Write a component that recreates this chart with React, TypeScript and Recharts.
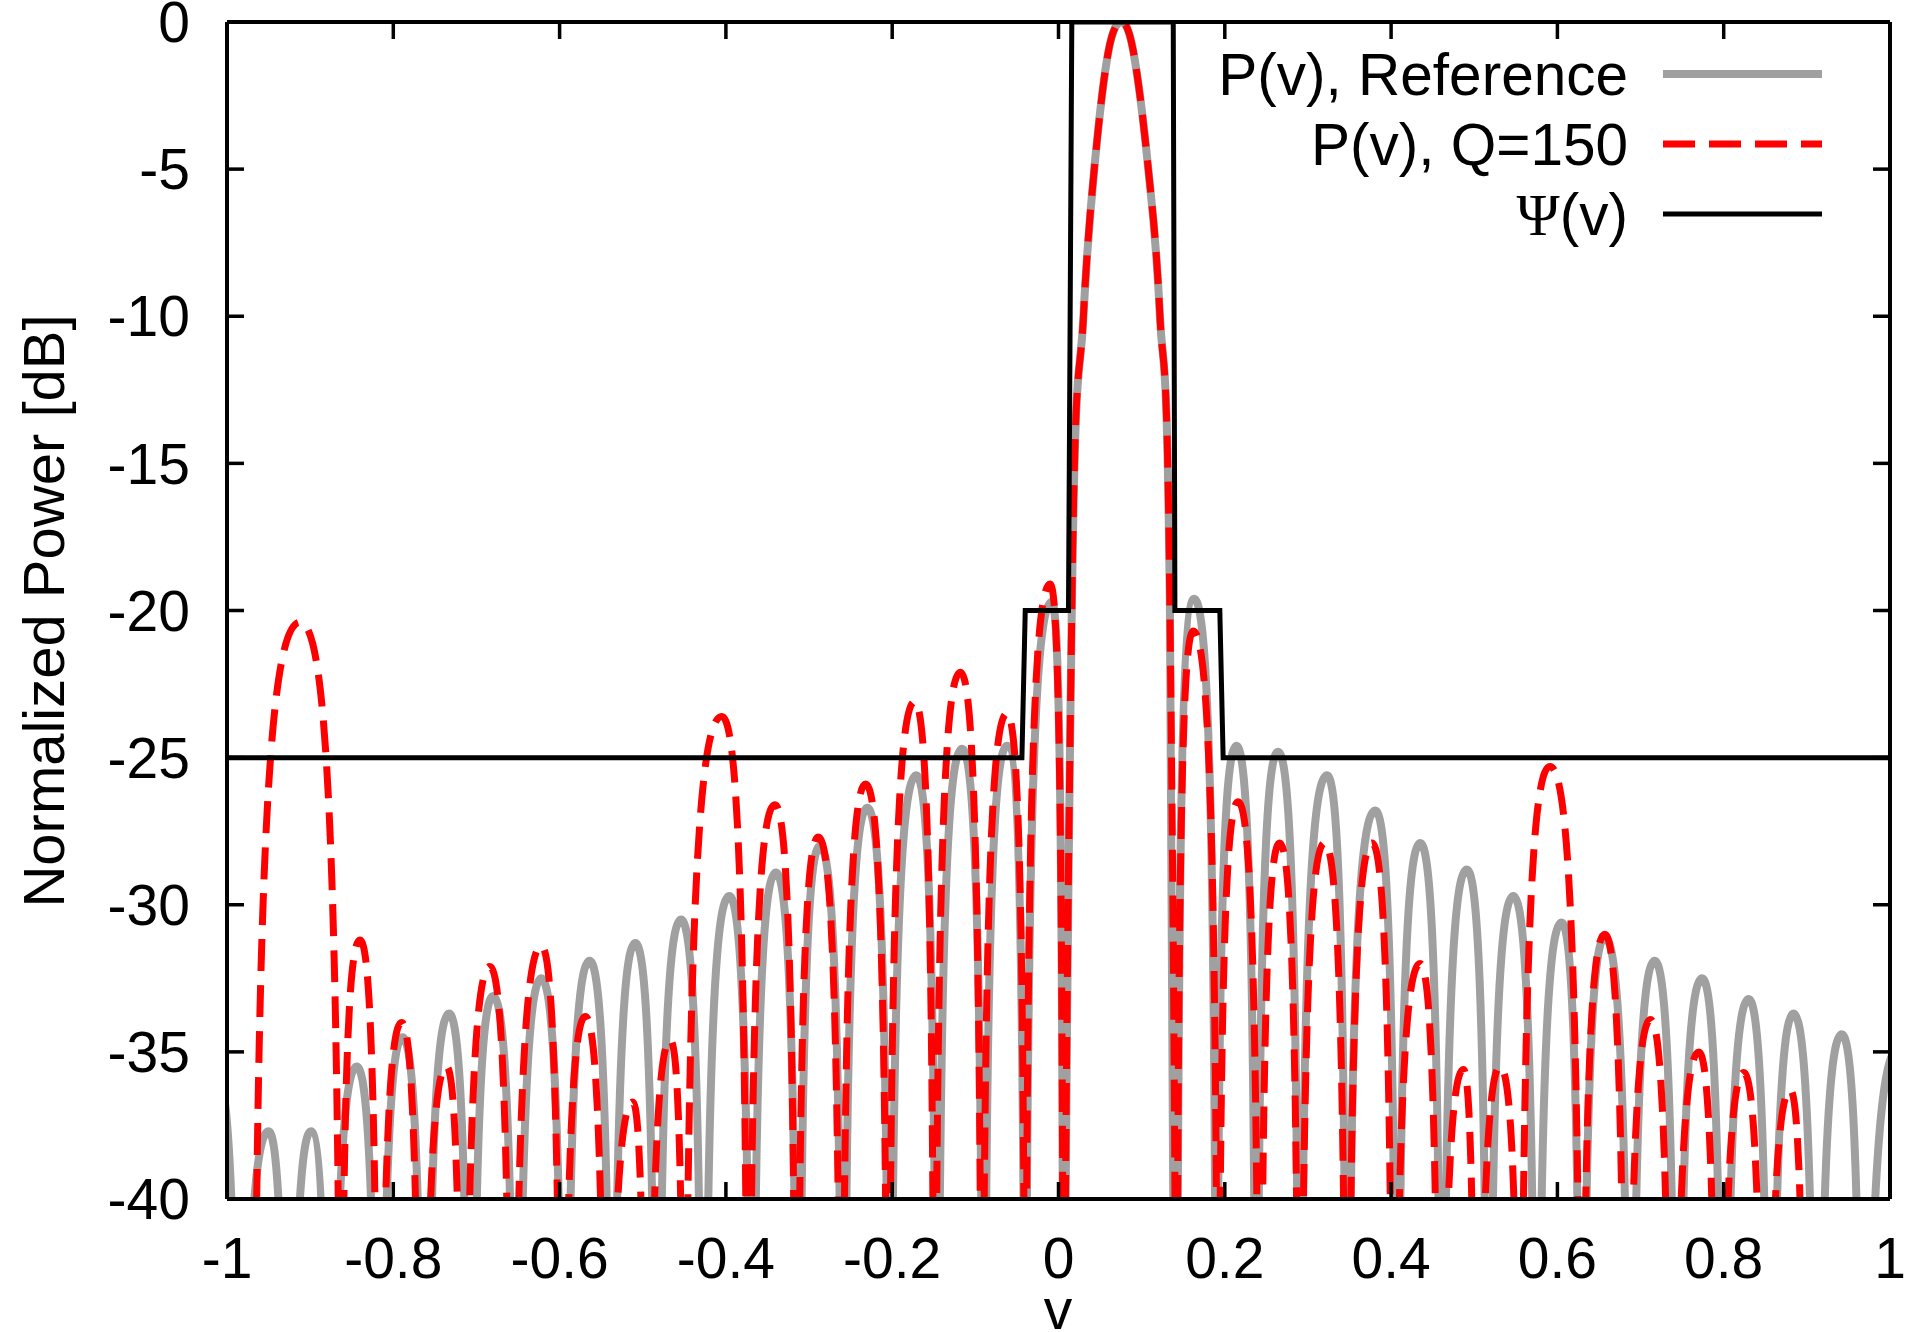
import React from 'react';
import { LineChart, Line, XAxis, YAxis, ReferenceLine } from 'recharts';

const FONT = '"Liberation Sans", Arial, Helvetica, sans-serif';
const W = 1917;
const H = 1332;
// plot box (px)
const LEFT = 227;
const TOP = 22;
const RIGHT = 1890;
const BOTTOM = 1199;
const TICK = 17;

// P(v), Reference: alternating nulls / sidelobe peaks, main lobe sampled
const refV = [
  -1.012, -0.984, -0.95, -0.926, -0.899, -0.876, -0.844, -0.817, -0.789, -0.762,
  -0.733, -0.707, -0.68, -0.652, -0.622, -0.594, -0.564, -0.537, -0.509, -0.483,
  -0.454, -0.427, -0.396, -0.369, -0.34, -0.313, -0.287, -0.259, -0.23, -0.203,
  -0.171, -0.146, -0.116, -0.09, -0.062, -0.04, -0.008, 0.006,
  0.016, 0.03, 0.043, 0.06, 0.076, 0.09, 0.108, 0.122, 0.134,
  0.142, 0.163, 0.19, 0.214, 0.238, 0.264, 0.29, 0.323, 0.347, 0.381,
  0.407, 0.435, 0.461, 0.491, 0.517, 0.547, 0.575, 0.605, 0.629, 0.657,
  0.688, 0.717, 0.744, 0.774, 0.8, 0.83, 0.856, 0.884, 0.912, 0.942,
  0.968, 1.01,
];
const refDb = [
  -35.8, -76, -37.7, -78, -37.7, -75.5, -35.5, -74.5, -34.5, -73.7,
  -33.7, -73.1, -33.1, -72.5, -32.5, -71.9, -31.9, -71.3, -31.3, -70.5,
  -30.5, -69.7, -29.7, -68.9, -28.9, -68, -28, -66.7, -26.7, -65.6,
  -25.6, -64.7, -24.7, -64.6, -24.6, -59.7, -19.7, -60,
  -20, -10, -5, -1, 0, -1, -5, -10, -20,
  -60, -19.6, -59.6, -24.6, -64.6, -24.8, -64.8, -25.6, -65.6, -26.8,
  -66.8, -27.9, -67.9, -28.8, -68.8, -29.7, -69.7, -30.6, -70.6, -31.1,
  -71.1, -31.9, -71.9, -32.5, -72.5, -33.2, -73.2, -33.7, -73.7, -34.4,
  -74.4, -34.9,
];

// P(v), Q=150
const qV = [
  -0.968, -0.912, -0.863, -0.84, -0.817, -0.79, -0.766, -0.736, -0.716, -0.684,
  -0.657, -0.622, -0.597, -0.569, -0.543, -0.512, -0.495, -0.467, -0.45, -0.405,
  -0.373, -0.341, -0.315, -0.289, -0.261, -0.232, -0.205, -0.173, -0.149, -0.118,
  -0.092, -0.062, -0.04, -0.01, 0.006,
  0.016, 0.03, 0.043, 0.06, 0.076, 0.09, 0.108, 0.122, 0.134,
  0.142, 0.162, 0.192, 0.216, 0.242, 0.266, 0.29, 0.32, 0.347, 0.377,
  0.403, 0.435, 0.459, 0.487, 0.503, 0.531, 0.555, 0.591, 0.629, 0.657,
  0.683, 0.712, 0.738, 0.77, 0.794, 0.824, 0.85, 0.88, 0.9,
];
const qDb = [
  -60.4, -20.4, -60.4, -31.2, -71.2, -34, -74, -35.5, -72.1, -32.1,
  -71.4, -31.4, -71.4, -33.8, -73.8, -36.7, -74.6, -34.6, -63.6, -23.6,
  -63.6, -26.6, -66.6, -27.7, -65.9, -25.9, -63.1, -23.1, -62.1, -22.1,
  -62.1, -23.5, -59.1, -19.1, -60,
  -20, -10, -5, -1, 0, -1, -5, -10, -20,
  -60, -20.7, -60.7, -26.5, -66.5, -27.9, -67.9, -27.9, -67.9, -27.9,
  -67.9, -32, -72, -35.6, -75.5, -35.5, -65.3, -25.3, -65.3, -31,
  -71, -33.9, -73.9, -35, -75, -35.7, -75.7, -36.3, -76.3,
];

// Psi(v) mask
const psiV = [-1, -0.044, -0.04, 0.012, 0.016, 0.138, 0.14, 0.194, 0.198, 1];
const psiDb = [-25, -25, -20, -20, 0, 0, -20, -20, -25, -25];

const vTicks = [-1, -0.8, -0.6, -0.4, -0.2, 0, 0.2, 0.4, 0.6, 0.8, 1];
const dbTicks = [-40, -35, -30, -25, -20, -15, -10, -5, 0];

const rows = (v: number[], db: number[]) => v.map((x, i) => ({ v: x, db: db[i] }));
const refData = rows(refV, refDb);
const qData = rows(qV, qDb);
const psiData = rows(psiV, psiDb);

// lobe-shaped curve: flat tops at peaks, near vertical dives into nulls
const lobeCurve = (ctx: any) => {
  let pts: number[][] = [];
  return {
    areaStart() {},
    areaEnd() {},
    lineStart() {
      pts = [];
    },
    point(x: number, y: number) {
      pts.push([+x, +y]);
    },
    lineEnd() {
      const n = pts.length;
      if (!n) return;
      ctx.moveTo(pts[0][0], pts[0][1]);
      const kind = pts.map((p, i) => {
        const a = pts[i - 1];
        const b = pts[i + 1];
        const up = (!a || p[1] < a[1]) && (!b || p[1] < b[1]);
        const down = (!a || p[1] > a[1]) && (!b || p[1] > b[1]);
        return up ? 'peak' : down ? 'null' : 'slope';
      });
      const slope = (i: number) => {
        const a = pts[Math.max(i - 1, 0)];
        const b = pts[Math.min(i + 1, n - 1)];
        return (b[1] - a[1]) / (b[0] - a[0]);
      };
      for (let i = 0; i < n - 1; i++) {
        const [x0, y0] = pts[i];
        const [x3, y3] = pts[i + 1];
        const dx = x3 - x0;
        const dy = y3 - y0;
        const k0 = kind[i];
        const k1 = kind[i + 1];
        let c1x = x0 + dx / 3;
        let c1y = y0 + (slope(i) * dx) / 3;
        let c2x = x3 - dx / 3;
        let c2y = y3 - (slope(i + 1) * dx) / 3;
        if (k0 === 'peak') {
          c1x = x0 + (k1 === 'null' ? 0.75 : 0.33) * dx;
          c1y = y0;
        } else if (k0 === 'null') {
          c1x = x0 + 0.01 * dx;
          c1y = y0 + (k1 === 'peak' ? 0.75 : 0.5) * dy;
        }
        if (k1 === 'peak') {
          c2x = x3 - (k0 === 'null' ? 0.75 : 0.33) * dx;
          c2y = y3;
        } else if (k1 === 'null') {
          c2x = x3 - 0.01 * dx;
          c2y = y3 - (k0 === 'peak' ? 0.75 : 0.5) * dy;
        }
        ctx.bezierCurveTo(c1x, c1y, c2x, c2y, x3, y3);
      }
    },
  };
};

const XTick = (props: any) => {
  const { x, y, payload } = props;
  return (
    <g>
      <line x1={x} x2={x} y1={BOTTOM} y2={BOTTOM - TICK} stroke="#000" strokeWidth={3.5} />
      <line x1={x} x2={x} y1={TOP} y2={TOP + TICK} stroke="#000" strokeWidth={3.5} />
      <text x={x} y={y} dy="0.71em" textAnchor="middle" fontSize={57} fontFamily={FONT} fill="#000">
        {payload.value}
      </text>
    </g>
  );
};

const YTick = (props: any) => {
  const { x, y, payload } = props;
  return (
    <g>
      <line x1={LEFT} x2={LEFT + TICK} y1={y} y2={y} stroke="#000" strokeWidth={3.5} />
      <line x1={RIGHT - TICK} x2={RIGHT} y1={y} y2={y} stroke="#000" strokeWidth={3.5} />
      <text x={x} y={y} dy="0.355em" textAnchor="end" fontSize={57} fontFamily={FONT} fill="#000">
        {payload.value}
      </text>
    </g>
  );
};

const legendItems = [
  { label: 'P(v), Reference', color: '#a0a0a0', width: 8, dash: undefined as string | undefined },
  { label: 'P(v), Q=150', color: '#ff0000', width: 7, dash: '32 14' },
  { label: 'psi', color: '#000000', width: 5, dash: undefined },
];

export default function App() {
  return (
    <div style={{ position: 'absolute', left: 0, top: 0, width: W, height: H, background: '#fff' }}>
      <LineChart width={W} height={H} margin={{ top: TOP, right: W - RIGHT, bottom: 0, left: 0 }}>
        <XAxis
          dataKey="v"
          type="number"
          domain={[-1, 1]}
          ticks={vTicks}
          interval={0}
          allowDataOverflow
          height={H - BOTTOM}
          tickLine={false}
          tickSize={0}
          tickMargin={39}
          tick={(p: any) => <XTick {...p} />}
          axisLine={{ stroke: '#000', strokeWidth: 4 }}
        />
        <YAxis
          dataKey="db"
          type="number"
          domain={[-40, 0]}
          ticks={dbTicks}
          interval={0}
          allowDataOverflow
          width={LEFT}
          tickLine={false}
          tickSize={0}
          tickMargin={37}
          tick={(p: any) => <YTick {...p} />}
          axisLine={{ stroke: '#000', strokeWidth: 4 }}
        />
        <Line
          data={refData}
          dataKey="db"
          type={lobeCurve as any}
          stroke="#a0a0a0"
          strokeWidth={8}
          dot={false}
          activeDot={false}
          isAnimationActive={false}
        />
        <Line
          data={qData}
          dataKey="db"
          type={lobeCurve as any}
          stroke="#ff0000"
          strokeWidth={7}
          strokeDasharray="32 14"
          dot={false}
          activeDot={false}
          isAnimationActive={false}
        />
        <Line
          data={psiData}
          dataKey="db"
          type="linear"
          stroke="#000"
          strokeWidth={5}
          dot={false}
          activeDot={false}
          isAnimationActive={false}
        />
        <ReferenceLine y={0} stroke="#000" strokeWidth={4} />
        <ReferenceLine x={1} stroke="#000" strokeWidth={4} />
      </LineChart>

      <svg
        width={W}
        height={H}
        style={{ position: 'absolute', left: 0, top: 0, pointerEvents: 'none' }}
      >
        {legendItems.map((item, i) => {
          const y = 74 + i * 70;
          return (
            <g key={item.label}>
              <text x={1628} y={y} dy="0.36em" textAnchor="end" fontSize={58.5} fontFamily={FONT}>
                {item.label === 'psi' ? (
                  <>
                    <tspan fontFamily='"Liberation Serif", "DejaVu Serif", serif'>Ψ</tspan>
                    <tspan>(v)</tspan>
                  </>
                ) : (
                  item.label
                )}
              </text>
              <line
                x1={1663}
                x2={1822}
                y1={y}
                y2={y}
                stroke={item.color}
                strokeWidth={item.width}
                strokeDasharray={item.dash}
              />
            </g>
          );
        })}
        <text
          x={64}
          y={611}
          transform="rotate(-90 64 611)"
          textAnchor="middle"
          fontSize={58}
          fontFamily={FONT}
        >
          Normalized Power [dB]
        </text>
        <text x={1058} y={1329} textAnchor="middle" fontSize={57} fontFamily={FONT}>
          v
        </text>
      </svg>
    </div>
  );
}
